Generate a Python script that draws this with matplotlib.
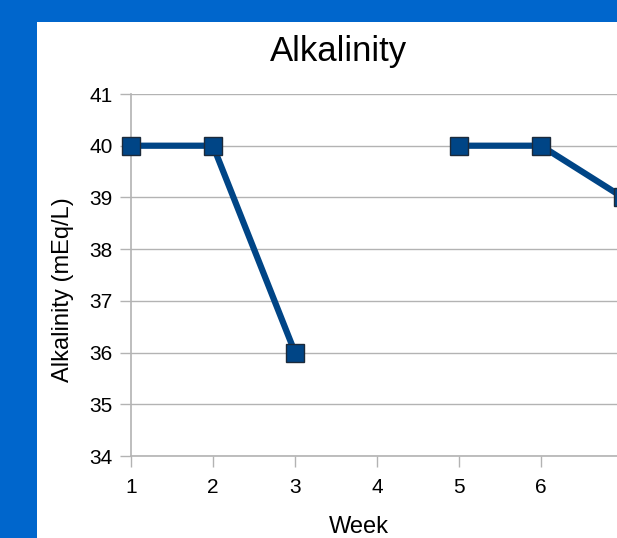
import matplotlib.pyplot as plt
import matplotlib.patches as mpatches
import numpy as np

plt.rcParams["font.family"] = ["Liberation Sans", "DejaVu Sans"]

# weekly alkalinity readings (week 4 not sampled)
weeks = [1, 2, 3, 4, 5, 6, 7]
alkalinity = [40, 40, 36, np.nan, 40, 40, 39]
x_ticks = [1, 2, 3, 4, 5, 6]
y_ticks = [34, 35, 36, 37, 38, 39, 40, 41]

W, H = 617, 538
LINE = "#004586"
GRID = "#b3b3b3"

fig = plt.figure(figsize=(W / 100, H / 100), dpi=100)
fig.patch.set_facecolor("#0066cc")
# white chart area inside the blue frame
fig.patches.append(mpatches.Rectangle((37 / W, 0), 1, 1 - 22 / H, transform=fig.transFigure,
                                      facecolor="white", edgecolor="none", zorder=-5))

# one week = 82 px; the plot runs past the right edge of the canvas
ax = fig.add_axes([131 / W, 1 - 456 / H, 7 * 82 / W, (456 - 94) / H])
ax.set_zorder(2)
ax.patch.set_alpha(0)
ax.plot(weeks, alkalinity, color=LINE, linewidth=4.5, marker="s", markersize=13,
        markerfacecolor=LINE, markeredgecolor="#1c2a3a", markeredgewidth=1.0,
        clip_on=False, zorder=3)

ax.set_xlim(1, 8)
ax.set_ylim(34, 41)
ax.set_xticks(x_ticks)
ax.set_yticks(y_ticks)
ax.grid(axis="y", color=GRID, linewidth=1)
ax.set_axisbelow(True)

for side in ("top", "right"):
    ax.spines[side].set_visible(False)
for side in ("left", "bottom"):
    ax.spines[side].set_color(GRID)
    ax.spines[side].set_linewidth(1.2)
ax.tick_params(axis="both", colors=GRID, labelcolor="black", labelsize=15, length=8, width=1)
ax.tick_params(axis="y", pad=5)
ax.tick_params(axis="x", pad=8)

fig.text(339 / W, 1 - 52 / H, "Alkalinity", ha="center", va="center", fontsize=25)
fig.text(359 / W, 1 - 527 / H, "Week", ha="center", va="center", fontsize=17)
fig.text(63 / W, 1 - 290 / H, "Alkalinity (mEq/L)", ha="center", va="center",
         rotation=90, fontsize=17)

fig.savefig("out.png", dpi=100, facecolor=fig.get_facecolor())
